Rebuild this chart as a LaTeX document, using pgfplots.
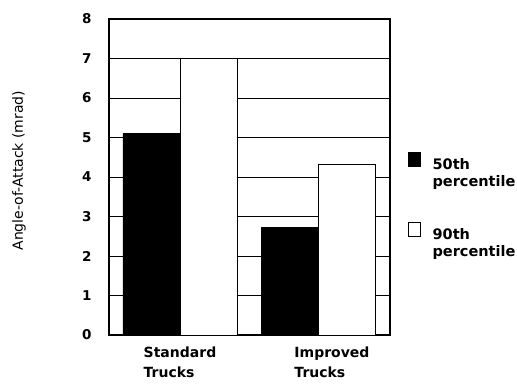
\documentclass[border=0pt]{standalone}
\usepackage{pgfplots}
\pgfplotsset{compat=1.18}
\usepackage{fontspec}
\setmainfont{DejaVu Sans}
\begin{document}
\begin{tikzpicture}
\useasboundingbox (0,0) rectangle (517bp,387bp);
\begin{axis}[
  at={(109bp,52bp)}, anchor=south west,
  scale only axis, width=281bp, height=316bp,
  ybar=0pt, bar width=0.413,
  xmin=-0.514, xmax=1.52, ymin=0, ymax=8,
  ytick={0,1,...,8}, xtick={0,1.1},
  xticklabels={Standard\\Trucks, Improved\\Trucks},
  major tick length=0pt,
  /pgf/number format/assume math mode=true,
  ymajorgrids, major grid style={black, line width=0.7bp},
  axis line style={black, line width=1.2bp},
  yticklabel style={font=\bfseries\fontsize{13.5bp}{15bp}\selectfont, xshift=-14bp},
  xticklabel style={align=left, font=\bfseries\fontsize{14bp}{20bp}\selectfont, yshift=-8bp},
  ylabel={Angle-of-Attack (mrad)},
  every axis y label/.style={at={(axis description cs:-0.32,0.52)}, rotate=90, anchor=center},
  ylabel style={font=\fontsize{14bp}{17bp}\selectfont},
  legend style={at={(1.064,0.58)}, anchor=north west, draw=none, fill=none,
    font=\bfseries\fontsize{14.5bp}{17bp}\selectfont,
    cells={anchor=west, align=left}, row sep=32bp, column sep=10bp, inner sep=0pt},
]
\addplot[fill=black, draw=black,
  legend image code/.code={\draw[fill=black,draw=black] (0bp,7bp) rectangle (12bp,21bp);}]
  coordinates {(0,5.1) (1,2.73)};
\addplot[fill=white, draw=black,
  legend image code/.code={\draw[fill=white,draw=black] (0bp,7bp) rectangle (12bp,21bp);}]
  coordinates {(0,7.0) (1,4.33)};
\legend{50th\\percentile, 90th\\percentile}
\end{axis}
\end{tikzpicture}
\end{document}
